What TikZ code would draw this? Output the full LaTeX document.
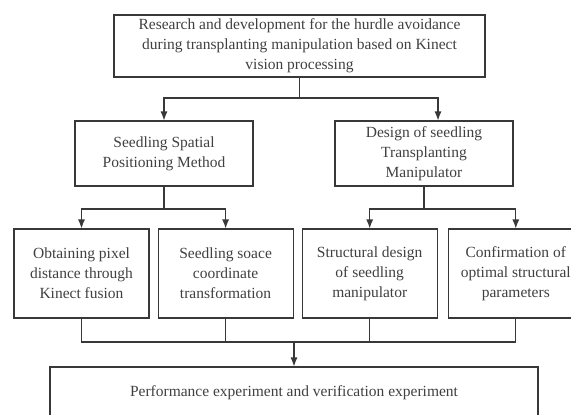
\documentclass[tikz,border=0pt]{standalone}
\usepackage{fontspec}
\setmainfont{Liberation Serif}
\usepackage{xcolor}
\usepackage{tikz}
\usetikzlibrary{positioning, arrows.meta, calc}

\begin{document}
\begin{tikzpicture}[
    x=1pt, y=-1pt,
    >={Latex[width=7pt,length=9pt]},
    line/.style={draw=black!78, line width=1.1pt},
    block/.style={rectangle, line, align=center, inner sep=0pt, text=black!75},
    goal/.style={block, minimum width=371pt, minimum height=62pt},
    branch/.style={block, minimum width=178pt, minimum height=65pt},
    task/.style={block, minimum width=135pt, minimum height=89pt},
    result/.style={block, minimum width=488pt, minimum height=52pt},
    every node/.style={font=\fontsize{15.5}{20}\selectfont},
    node distance=8pt % gap between the lower boxes
]
\useasboundingbox (0,0) rectangle (571,415);
\clip (0,0) rectangle (571,415);

% Nodes
\node[goal] (goal) at (299.5,46) {Research and development for the hurdle avoidance\\during transplanting manipulation based on Kinect\\vision processing};

\node[branch] (spm) at (164,153.5) {Seedling Spatial\\Positioning Method};
\node[branch] (dtm) at (424,153.5) {Design of seedling\\Transplanting\\Manipulator};

\node[task] (pix) at (81.5,273.5) {Obtaining pixel\\distance through\\Kinect fusion};
\node[task, right=of pix] (coord) {Seedling soace\\coordinate\\transformation};
\node[task, right=of coord] (struct) {Structural design\\of seedling\\manipulator};
\node[task, right=10pt of struct] (param) {Confirmation of\\optimal structural\\parameters};

\node[result] (exp) at (294,393) {Performance experiment and verification experiment};

% Junctions
\coordinate (j0) at (goal.south |- 0,98);
\coordinate (j1) at (spm.south |- 0,209);
\coordinate (j2) at (dtm.south |- 0,209);
\coordinate (j3) at (exp.north |- 0,342);

% Top split
\draw[line] (goal.south) -- (j0);
\draw[line, ->] (j0) -| (spm.north);
\draw[line, ->] (j0) -| ([xshift=14pt] dtm.north);

% Second split
\draw[line] (spm.south) -- (j1);
\draw[line, ->] (j1) -| (pix.north);
\draw[line, ->] (j1) -| (coord.north);
\draw[line] (dtm.south) -- (j2);
\draw[line, ->] (j2) -| (struct.north);
\draw[line, ->] (j2) -| (param.north);

% Merge into the experiment box
\draw[line] (pix.south) |- (j3) -| (param.south);
\draw[line] (coord.south) -- (coord.south |- j3);
\draw[line] (struct.south) -- (struct.south |- j3);
\draw[line, ->] (j3) -- (exp.north);

\end{tikzpicture}
\end{document}
